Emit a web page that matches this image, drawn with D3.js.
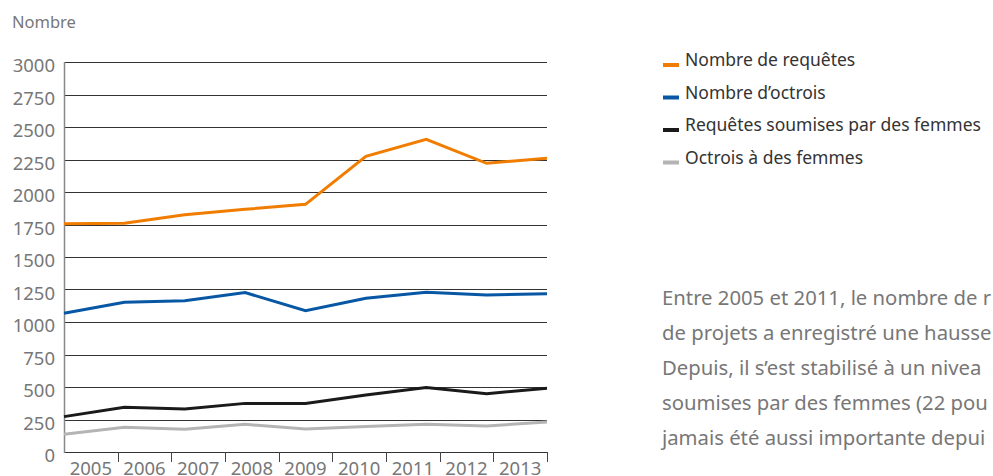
<!DOCTYPE html>
<html>
<head>
<meta charset="utf-8">
<script src="https://cdn.jsdelivr.net/npm/d3@7"></script>
<style>
  body { margin: 0; background: #fff; overflow: hidden; }
  svg { display: block; font-family: "Noto Sans", "Open Sans", sans-serif; }
</style>
</head>
<body>
<svg id="chart" width="993" height="476"></svg>
<script>
var years = ["2005", "2006", "2007", "2008", "2009", "2010", "2011", "2012", "2013"];
var requetes = [1755, 1760, 1825, 1867, 1905, 2274, 2405, 2221, 2259];
var octrois = [1067, 1152, 1164, 1226, 1087, 1182, 1228, 1208, 1218];
var requetesFemmes = [272, 344, 331, 374, 374, 438, 497, 449, 490];
var octroisFemmes = [136, 190, 175, 213, 177, 197, 213, 200, 231];
var yTicks = [0, 250, 500, 750, 1000, 1250, 1500, 1750, 2000, 2250, 2500, 2750, 3000];

var series = [
  { name: "Nombre de requêtes", values: requetes, color: "#f07d00" },
  { name: "Nombre d\u2019octrois", values: octrois, color: "#0757a5" },
  { name: "Requêtes soumises par des femmes", values: requetesFemmes, color: "#1a1a1a" },
  { name: "Octrois à des femmes", values: octroisFemmes, color: "#b4b4b4" }
];

var paragraph = [
  "Entre 2005 et 2011, le nombre de r",
  "de projets a enregistré une hausse",
  "Depuis, il s\u2019est stabilisé à un nivea",
  "soumises par des femmes (22 pou",
  "jamais été aussi importante depui"
];

var plotLeft = 64, plotRight = 547, plotTop = 62, plotBottom = 452;

var svg = d3.select("#chart");

var y = d3.scaleLinear().domain([0, 3000]).range([plotBottom, plotTop]);
// labels sit in bands, points run edge to edge
var xBand = d3.scaleBand().domain(years).range([plotLeft, plotRight]);
var xPoint = d3.scalePoint().domain(years).range([plotLeft, plotRight]);

svg.append("text")
  .attr("x", 12).attr("y", 28)
  .attr("fill", "#777")
  .style("font-size", "16.5px")
  .text("Nombre");

// grid
svg.append("g")
  .selectAll("line")
  .data(yTicks)
  .join("line")
  .attr("x1", plotLeft).attr("x2", plotRight)
  .attr("y1", d => Math.round(y(d)) + 0.5)
  .attr("y2", d => Math.round(y(d)) + 0.5)
  .attr("stroke", "#333")
  .attr("stroke-width", 1);

svg.append("g")
  .selectAll("text")
  .data(yTicks)
  .join("text")
  .attr("x", 55)
  .attr("y", d => y(d) + 10)
  .attr("text-anchor", "end")
  .attr("fill", "#777")
  .style("font-size", "18.5px")
  .text(d => d);

// y axis line
svg.append("line")
  .attr("x1", plotLeft + 0.5).attr("x2", plotLeft + 0.5)
  .attr("y1", plotTop).attr("y2", plotBottom + 1)
  .attr("stroke", "#888").attr("stroke-width", 1.5);

// x ticks at band edges
var edges = years.map(d => xBand(d)).concat([plotRight]);
svg.append("g")
  .selectAll("line")
  .data(edges.slice(1))
  .join("line")
  .attr("x1", d => Math.round(d) + 0.5).attr("x2", d => Math.round(d) + 0.5)
  .attr("y1", plotBottom).attr("y2", plotBottom + 10)
  .attr("stroke", "#444");

svg.append("g")
  .selectAll("text")
  .data(years)
  .join("text")
  .attr("x", d => xBand(d) + xBand.bandwidth() / 2)
  .attr("y", 475)
  .attr("text-anchor", "middle")
  .attr("fill", "#777")
  .style("font-size", "18.5px")
  .text(d => d);

var line = d3.line()
  .x((d, i) => xPoint(years[i]))
  .y(d => y(d));

svg.append("g")
  .selectAll("path")
  .data(series.slice().reverse())
  .join("path")
  .attr("d", d => line(d.values))
  .attr("fill", "none")
  .attr("stroke", d => d.color)
  .attr("stroke-width", 3)
  .attr("stroke-linejoin", "miter");

// legend
var legend = svg.append("g")
  .selectAll("g")
  .data(series)
  .join("g")
  .attr("transform", (d, i) => "translate(663," + (60 + i * 32.5) + ")");

legend.append("rect")
  .attr("x", 0).attr("y", 3)
  .attr("width", 16).attr("height", 4)
  .attr("fill", d => d.color);

legend.append("text")
  .attr("x", 22).attr("y", 6)
  .attr("fill", "#333")
  .style("font-size", "17.5px")
  .text(d => d.name);

// text block on the right, cut by the page edge as in the source
svg.append("g")
  .selectAll("text")
  .data(paragraph)
  .join("text")
  .attr("x", 662)
  .attr("y", (d, i) => 305 + i * 35)
  .attr("fill", "#777")
  .style("font-size", "20.3px")
  .text(d => d);
</script>
</body>
</html>
